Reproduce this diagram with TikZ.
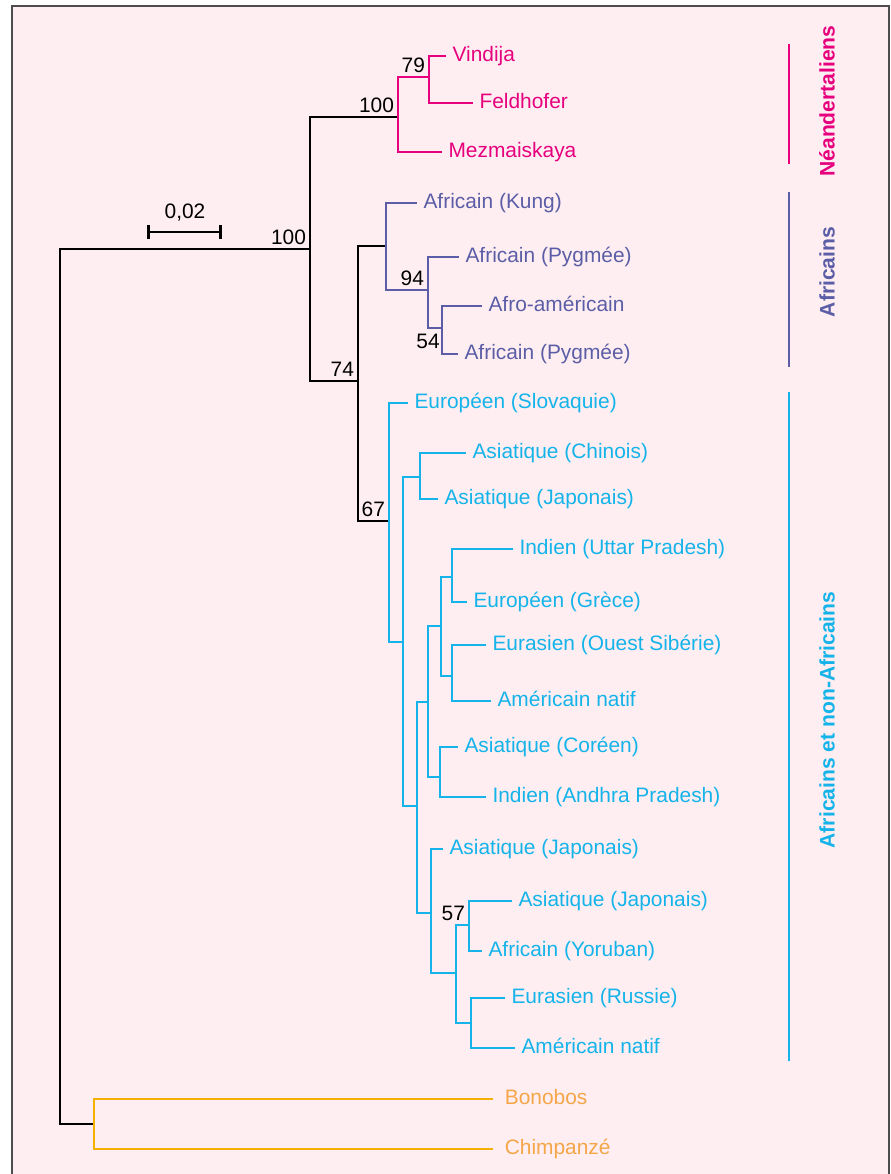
\documentclass[tikz,border=0pt]{standalone}
\usepackage{fontspec}
\setmainfont{Liberation Sans}
\usepackage{tikz}
\usetikzlibrary{arrows.meta, positioning, calc}
\definecolor{NeaMag}{HTML}{E6007E}
\definecolor{AfrPur}{HTML}{5B5EA6}
\definecolor{NonCya}{HTML}{14B4EA}
\definecolor{OutOra}{HTML}{F5B000}
\definecolor{OutTxt}{HTML}{F4A648}
\definecolor{FondRose}{HTML}{FFEEF1}
\definecolor{Cadre}{HTML}{4D4D4D}

\begin{document}
\begin{tikzpicture}[
    x=0.02cm, y=-0.02cm, line width=1.45pt,
    font=\fontsize{11.9}{14}\selectfont,
    leaf/.style={anchor=west, inner xsep=3pt, inner ysep=0pt, text height=0.7em, text depth=0.12em},
    boot/.style={inner sep=1.6pt},
    grp/.style={rotate=90, font=\fontsize{12}{14}\selectfont\bfseries},
    grpbar/.style={line width=1.5pt},
  ]
    % cadre et fond
    \useasboundingbox (0,0) rectangle (891,1174);
    \clip (0,0) rectangle (891,1174);
    \fill[FondRose] (12,6) rectangle (889,1200);
    \draw[Cadre, line width=1.2pt] (12,6) rectangle (889,1200);

    % echelle
    \coordinate (echG) at (147,232);
    \coordinate (echD) at (222,232);
    \draw[{Bar[width=7.5pt]}-{Bar[width=7.5pt]}] (echG) -- (echD);
    \node (echT) at (185,213) {0,02};

    % noeuds internes (noir)
    \coordinate (nR) at (60,700);
    \coordinate (nH) at (310,249);
    \coordinate (nN) at (398,117);
    \coordinate (n74) at (358,381);
    \coordinate (nAf) at (386,246);
    \coordinate (n67) at (389,521);
    \coordinate (nO) at (94,1124);
    \draw (nR) |- (nH);
    \draw (nR) |- (nO);
    \draw (nH) |- (nN);
    \draw (nH) |- (n74);
    \draw (n74) |- (nAf);
    \draw (n74) |- (n67);

    % Neandertaliens
    \coordinate (n79) at (429,77);
    \node[leaf, text=NeaMag] (vindija) at (446,56) {Vindija};
    \node[leaf, text=NeaMag] (feldhofer) at (473,103) {Feldhofer};
    \node[leaf, text=NeaMag] (mezm) at (442,152) {Mezmaiskaya};
    \draw[NeaMag] (n79) |- (vindija.west);
    \draw[NeaMag] (n79) |- (feldhofer.west);
    \draw[NeaMag] (nN) |- (n79);
    \draw[NeaMag] (nN) |- (mezm.west);

    % Africains
    \coordinate (n94) at (428,290);
    \coordinate (n54) at (442,328);
    \node[leaf, text=AfrPur] (kung) at (417,203) {Africain (Kung)};
    \node[leaf, text=AfrPur] (pyga) at (459,257) {Africain (Pygmée)};
    \node[leaf, text=AfrPur] (afro) at (482,306) {Afro-américain};
    \node[leaf, text=AfrPur] (pygb) at (458,354) {Africain (Pygmée)};
    \draw[AfrPur] (nAf) |- (kung.west);
    \draw[AfrPur] (nAf) |- (n94);
    \draw[AfrPur] (n94) |- (pyga.west);
    \draw[AfrPur] (n94) |- (n54);
    \draw[AfrPur] (n54) |- (afro.west);
    \draw[AfrPur] (n54) |- (pygb.west);

    % Africains et non-Africains
    \coordinate (c1) at (403,642);
    \coordinate (c2) at (420,477);
    \coordinate (c3) at (417,806);
    \coordinate (c4) at (428,702);
    \coordinate (c5) at (441,626);
    \coordinate (c5a) at (452,577);
    \coordinate (c5b) at (452,676);
    \coordinate (c7) at (440,777);
    \coordinate (c8) at (431,913);
    \coordinate (c9) at (456,973);
    \coordinate (c10) at (469,925);
    \coordinate (c11) at (471,1023);
    \node[leaf, text=NonCya] (slov) at (408,403) {Européen (Slovaquie)};
    \node[leaf, text=NonCya] (chin) at (466,453) {Asiatique (Chinois)};
    \node[leaf, text=NonCya] (japa) at (438,499) {Asiatique (Japonais)};
    \node[leaf, text=NonCya] (uttar) at (513,549) {Indien (Uttar Pradesh)};
    \node[leaf, text=NonCya] (grece) at (467,602) {Européen (Grèce)};
    \node[leaf, text=NonCya] (sibe) at (486,645) {Eurasien (Ouest Sibérie)};
    \node[leaf, text=NonCya] (amna) at (491,701) {Américain natif};
    \node[leaf, text=NonCya] (core) at (458,747) {Asiatique (Coréen)};
    \node[leaf, text=NonCya] (andh) at (486,797) {Indien (Andhra Pradesh)};
    \node[leaf, text=NonCya] (japb) at (443,849) {Asiatique (Japonais)};
    \node[leaf, text=NonCya] (japc) at (512,901) {Asiatique (Japonais)};
    \node[leaf, text=NonCya] (yoru) at (482,951) {Africain (Yoruban)};
    \node[leaf, text=NonCya] (russ) at (505,998) {Eurasien (Russie)};
    \node[leaf, text=NonCya] (amnb) at (515,1048) {Américain natif};
    \draw[NonCya] (n67) |- (slov.west);
    \draw[NonCya] (n67) |- (c1);
    \draw[NonCya] (c1) |- (c2);
    \draw[NonCya] (c1) |- (c3);
    \draw[NonCya] (c2) |- (chin.west);
    \draw[NonCya] (c2) |- (japa.west);
    \draw[NonCya] (c3) |- (c4);
    \draw[NonCya] (c3) |- (c8);
    \draw[NonCya] (c4) |- (c5);
    \draw[NonCya] (c4) |- (c7);
    \draw[NonCya] (c5) |- (c5a);
    \draw[NonCya] (c5) |- (c5b);
    \draw[NonCya] (c5a) |- (uttar.west);
    \draw[NonCya] (c5a) |- (grece.west);
    \draw[NonCya] (c5b) |- (sibe.west);
    \draw[NonCya] (c5b) |- (amna.west);
    \draw[NonCya] (c7) |- (core.west);
    \draw[NonCya] (c7) |- (andh.west);
    \draw[NonCya] (c8) |- (japb.west);
    \draw[NonCya] (c8) |- (c9);
    \draw[NonCya] (c9) |- (c10);
    \draw[NonCya] (c9) |- (c11);
    \draw[NonCya] (c10) |- (japc.west);
    \draw[NonCya] (c10) |- (yoru.west);
    \draw[NonCya] (c11) |- (russ.west);
    \draw[NonCya] (c11) |- (amnb.west);

    % groupe externe
    \node[leaf, text=OutTxt, inner xsep=6pt] (bono) at (493,1099) {Bonobos};
    \node[leaf, text=OutTxt, inner xsep=6pt] (chim) at (493,1149) {Chimpanzé};
    \draw[OutOra] (nO) |- (bono.west);
    \draw[OutOra] (nO) |- (chim.west);

    % valeurs de bootstrap
    \node[boot, anchor=south east] (bH) at (nH) {100};
    \node[boot, anchor=south east] (bN) at (nN) {100};
    \node[boot, anchor=south east] (b79) at (n79) {79};
    \node[boot, anchor=south east] (b74) at (n74) {74};
    \node[boot, anchor=south east] (b94) at (n94) {94};
    \node[boot, anchor=north east, inner sep=0.6pt, yshift=-2pt] (b54) at (n54) {54};
    \node[boot, anchor=south east] (b67) at (n67) {67};
    \node[boot, anchor=south east] (b57) at (c10) {57};

    % barres des groupes
    \coordinate (gNa) at (789,44);  \coordinate (gNb) at (789,164);
    \coordinate (gAa) at (789,192); \coordinate (gAb) at (789,367);
    \coordinate (gCa) at (789,392); \coordinate (gCb) at (789,1061);
    \draw[grpbar, NeaMag] (gNa) -- (gNb);
    \draw[grpbar, AfrPur] (gAa) -- (gAb);
    \draw[grpbar, NonCya] (gCa) -- (gCb);
    \node[grp, text=NeaMag] (tN) at (827,101) {Néandertaliens};
    \node[grp, text=AfrPur] (tA) at (827,272) {Africains};
    \node[grp, text=NonCya] (tC) at (827,720) {Africains et non-Africains};
\end{tikzpicture}
\end{document}
